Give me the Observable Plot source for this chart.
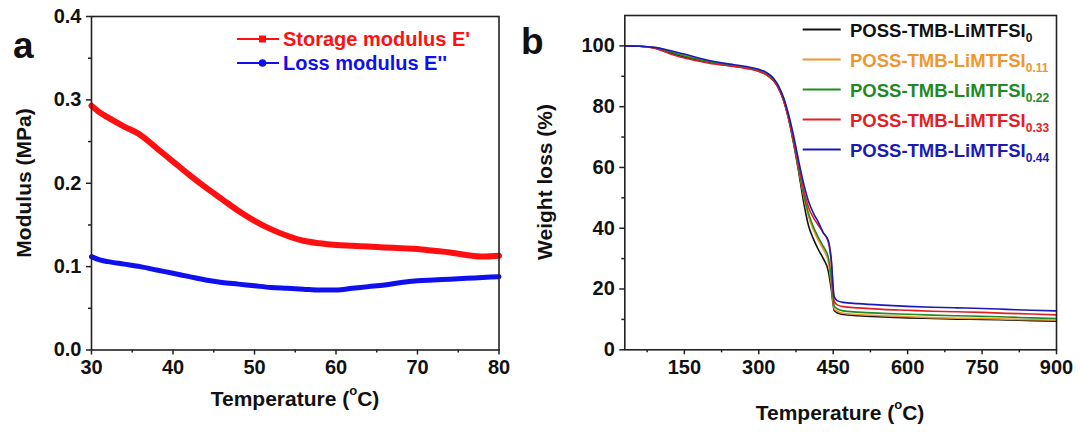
<!DOCTYPE html>
<html><head><meta charset="utf-8">
<script src="https://cdn.jsdelivr.net/npm/d3@7"></script>
<script src="https://cdn.jsdelivr.net/npm/@observablehq/plot@0.6"></script>
<style>
body{margin:0;background:#fff;}
#wrap{display:flex;width:1081px;height:432px;}
#wrap svg{flex-shrink:0;overflow:visible;background:transparent;}
</style></head><body><div id="wrap"></div>
<script>
// ---------- Panel a data ----------
const tempA = [30,31,32,34,36,38,40,42,44,46,48,50,52,54,56,58,60,62,64,66,68,70,72,74,76,78,80];
const storageMod = [0.293,0.285,0.279,0.268,0.258,0.242,0.226,0.210,0.195,0.181,0.167,0.155,0.145,0.137,0.131,0.128,0.126,0.125,0.124,0.123,0.122,0.121,0.119,0.117,0.114,0.112,0.113];
const lossMod = [0.112,0.108,0.106,0.103,0.100,0.096,0.092,0.088,0.084,0.081,0.079,0.077,0.075,0.074,0.073,0.072,0.072,0.074,0.076,0.078,0.081,0.083,0.084,0.085,0.086,0.087,0.088];
const xTicksA = [30,40,50,60,70,80];
const xMinorA = [35,45,55,65,75];
const yTicksA = [0,0.1,0.2,0.3,0.4];
const yMinorA = [0.05,0.15,0.25,0.35];
const seriesA = ["Storage modulus E'", "Loss modulus E''"];
const colorsA = ["#ff1010", "#1010ee"];

// ---------- Panel b data ----------
const tempB = [30,60,90,110,130,150,175,200,225,250,275,300,315,330,340,350,360,370,380,390,400,410,420,430,440,446,452,458,470,500,550,600,650,700,750,800,850,900];
const wl_0    = [100,99.9,99.3,98.3,97.2,96.3,95.4,94.6,93.9,93.3,92.7,91.7,90.6,88.5,86.0,82.0,76.0,68.0,59.0,49.0,41.0,36.5,33.0,30.0,26.0,20.0,13.0,12.2,11.6,11.2,10.8,10.5,10.3,10.1,10.0,9.8,9.6,9.4];
const wl_011  = [100,99.9,99.5,98.8,97.9,97.0,95.9,95.0,94.2,93.6,93.0,92.1,91.0,89.0,86.5,82.5,76.5,69.0,60.0,51.0,44.0,39.5,36.0,33.0,29.0,22.0,13.5,12.7,12.0,11.6,11.2,10.9,10.6,10.4,10.3,10.1,9.9,9.8];
const wl_022  = [100,99.9,99.4,98.6,97.6,96.7,95.7,94.8,94.0,93.4,92.8,91.9,90.8,88.8,86.3,82.3,76.3,68.7,60.0,51.5,45.0,40.5,37.0,34.0,30.5,24.0,14.5,13.5,12.8,12.4,12.0,11.7,11.4,11.2,11.0,10.8,10.5,10.3];
const wl_033  = [100,99.9,99.2,98.1,96.9,96.0,95.1,94.3,93.7,93.2,92.6,91.6,90.5,88.5,86.0,82.0,76.3,69.0,61.0,53.0,47.0,43.5,41.0,38.5,35.5,29.0,16.0,14.8,14.2,13.8,13.3,13.0,12.7,12.5,12.3,12.0,11.8,11.5];
const wl_044  = [100,99.9,99.5,98.9,98.1,97.3,96.2,95.2,94.4,93.8,93.2,92.3,91.3,89.3,86.8,83.0,77.5,70.5,62.5,55.0,49.0,45.0,42.0,38.5,36.0,30.0,17.5,16.2,15.6,15.2,14.7,14.3,14.0,13.8,13.6,13.3,13.0,12.8];
const subsB = ["0","0.11","0.22","0.33","0.44"];
const colorsB = ["#111111","#f0962e","#1f8a1f","#e31e24","#1a1ab8"];
const xTicksB = [150,300,450,600,750,900];
const xMinorB = [75,225,375,525,675,825];
const yTicksB = [0,20,40,60,80,100];
const yMinorB = [10,30,50,70,90];

const FONT = "Liberation Sans, Arial, Helvetica, sans-serif";
const AX = {stroke: "#222", strokeWidth: 1.5, fontSize: 20, fontWeight: "bold", label: null};

const dataA = tempA.flatMap((t,i)=>[
  {t, v: storageMod[i], s: seriesA[0]},
  {t, v: lossMod[i], s: seriesA[1]}
]);
const wlAll = [wl_0, wl_011, wl_022, wl_033, wl_044];
const dataB = wlAll.flatMap((arr,k)=>tempB.map((t,i)=>({t, w: arr[i], s: subsB[k]})));

const plotA = Plot.plot({
  width: 530, height: 432,
  marginLeft: 91, marginRight: 31.5, marginTop: 16, marginBottom: 82.5,
  x: {domain: [30, 80]},
  y: {domain: [0, 0.4]},
  style: {fontFamily: FONT, fontWeight: "bold", color: "#111", background: "transparent"},
  marks: [
    Plot.line(dataA, {x: "t", y: "v", z: "s", stroke: d => d.s === seriesA[0] ? colorsA[0] : colorsA[1],
      strokeWidth: d => d.s === seriesA[0] ? 6 : 5, strokeLinejoin: "round", curve: "monotone-x"}),
    Plot.axisX(xTicksA, {...AX, tickSize: 5, tickPadding: 5}),
    Plot.axisX(xMinorA, {...AX, tickSize: 3, tickFormat: () => ""}),
    Plot.axisY(yTicksA, {...AX, tickSize: 5, tickPadding: 5, tickFormat: d3.format(".1f")}),
    Plot.axisY(yMinorA, {...AX, tickSize: 3, tickFormat: () => ""}),
    Plot.frame({stroke: "#222", strokeWidth: 1.6})
  ]
});

const plotB = Plot.plot({
  width: 551, height: 432,
  marginLeft: 94.3, marginRight: 25, marginTop: 15, marginBottom: 82.7,
  x: {domain: [30, 900]},
  y: {domain: [0, 110]},
  style: {fontFamily: FONT, fontWeight: "bold", color: "#111", background: "transparent"},
  marks: [
    Plot.line(dataB, {x: "t", y: "w", z: "s", stroke: d => colorsB[subsB.indexOf(d.s)], strokeWidth: 1.6, curve: "monotone-x"}),
    Plot.axisX(xTicksB, {...AX, tickSize: 5, tickPadding: 5}),
    Plot.axisX(xMinorB, {...AX, tickSize: 3, tickFormat: () => ""}),
    Plot.axisY(yTicksB, {...AX, tickSize: 5, tickPadding: 5}),
    Plot.axisY(yMinorB, {...AX, tickSize: 3, tickFormat: () => ""}),
    Plot.frame({stroke: "#222", strokeWidth: 1.6})
  ]
});

const wrap = document.getElementById("wrap");
wrap.appendChild(plotA);
wrap.appendChild(plotB);

function tempLabel(svg, cx, cy) {
  const t = d3.select(svg).append("text")
    .attr("x", cx).attr("y", cy).attr("text-anchor", "middle").attr("dominant-baseline", "central")
    .attr("font-family", FONT).attr("font-weight", "bold").attr("font-size", 21).attr("fill", "#111");
  t.append("tspan").text("Temperature (");
  t.append("tspan").attr("font-size", 13).attr("dy", -8).text("o");
  t.append("tspan").attr("dy", 8).text("C)");
}
function yLabel(svg, cx, cy, txt) {
  d3.select(svg).append("text")
    .attr("transform", `translate(${cx},${cy}) rotate(-90)`)
    .attr("text-anchor", "middle").attr("dominant-baseline", "central")
    .attr("font-family", FONT).attr("font-weight", "bold").attr("font-size", 21).attr("fill", "#111")
    .text(txt);
}
function panelLetter(svg, x, y, txt) {
  d3.select(svg).append("text").attr("x", x).attr("y", y).attr("text-anchor", "start")
    .attr("font-family", FONT).attr("font-weight", "bold").attr("font-size", 37).attr("fill", "#111").text(txt);
}

// Panel a annotations
tempLabel(plotA, 295, 398);
yLabel(plotA, 23, 183, "Modulus (MPa)");
panelLetter(plotA, 13, 58, "a");
{
  const g = d3.select(plotA).append("g");
  const rows = [39, 63];
  seriesA.forEach((name, i) => {
    g.append("line").attr("x1", 237).attr("x2", 279).attr("y1", rows[i]).attr("y2", rows[i])
      .attr("stroke", colorsA[i]).attr("stroke-width", 1.8);
    if (i === 0) g.append("rect").attr("x", 259).attr("y", rows[i]-3.5).attr("width", 7).attr("height", 7).attr("fill", colorsA[i]);
    else g.append("circle").attr("cx", 262.5).attr("cy", rows[i]).attr("r", 3.8).attr("fill", colorsA[i]);
    g.append("text").attr("x", 283).attr("y", rows[i]).attr("dominant-baseline", "central").attr("text-anchor", "start")
      .attr("font-family", FONT).attr("font-weight", "bold").attr("font-size", 20).attr("fill", colorsA[i]).text(name);
  });
}

// Panel b annotations
tempLabel(plotB, 310, 412);
yLabel(plotB, 14, 182, "Weight loss (%)");
panelLetter(plotB, -9, 54, "b");
{
  const g = d3.select(plotB).append("g");
  subsB.forEach((sub, i) => {
    const y = 29.5 + 30 * i;
    g.append("line").attr("x1", 272.7).attr("x2", 310.7).attr("y1", y).attr("y2", y)
      .attr("stroke", colorsB[i]).attr("stroke-width", 1.8);
    const t = g.append("text").attr("x", 320).attr("y", y).attr("dominant-baseline", "central").attr("text-anchor", "start")
      .attr("font-family", FONT).attr("font-weight", "bold").attr("font-size", 18.5).attr("fill", colorsB[i]);
    t.append("tspan").text("POSS-TMB-LiMTFSI");
    t.append("tspan").attr("font-size", 12).attr("dy", 8).text(sub);
  });
}
</script></body></html>
